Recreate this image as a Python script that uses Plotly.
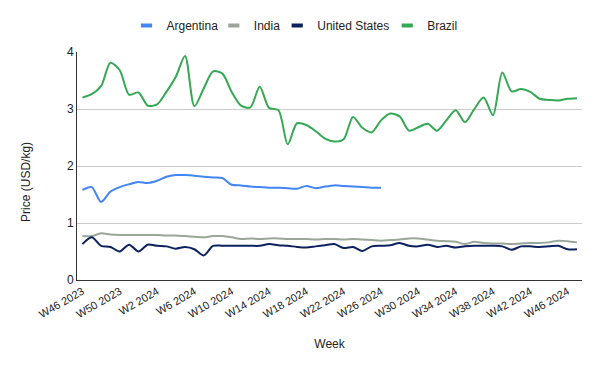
import plotly.graph_objects as go

weeks = [f"W{w} 2023" for w in range(46, 53)] + [f"W{w} 2024" for w in range(1, 48)]

argentina = [1.58, 1.63, 1.37, 1.55, 1.63, 1.68, 1.72, 1.70, 1.74, 1.81,
             1.84, 1.84, 1.83, 1.81, 1.80, 1.79, 1.67, 1.66, 1.64, 1.63,
             1.62, 1.62, 1.61, 1.60, 1.65, 1.61, 1.64, 1.66, 1.65, 1.64,
             1.63, 1.62, 1.62] + [None] * 21

india = [0.77, 0.77, 0.82, 0.80, 0.79, 0.79, 0.79, 0.79, 0.79, 0.78,
         0.78, 0.77, 0.76, 0.75, 0.77, 0.77, 0.75, 0.72, 0.73, 0.72,
         0.73, 0.73, 0.72, 0.72, 0.72, 0.71, 0.72, 0.72, 0.71, 0.72,
         0.71, 0.70, 0.69, 0.70, 0.71, 0.73, 0.73, 0.71, 0.69, 0.68,
         0.67, 0.63, 0.67, 0.65, 0.64, 0.64, 0.63, 0.64, 0.65, 0.65,
         0.66, 0.69, 0.68, 0.66]

united_states = [0.63, 0.75, 0.60, 0.58, 0.50, 0.62, 0.50, 0.62, 0.60, 0.59,
                 0.55, 0.58, 0.54, 0.43, 0.60, 0.60, 0.60, 0.60, 0.60, 0.60,
                 0.63, 0.61, 0.60, 0.58, 0.57, 0.59, 0.61, 0.63, 0.56, 0.58,
                 0.51, 0.59, 0.60, 0.61, 0.65, 0.60, 0.59, 0.62, 0.58, 0.60,
                 0.57, 0.59, 0.60, 0.60, 0.60, 0.59, 0.53, 0.59, 0.59, 0.58,
                 0.59, 0.60, 0.54, 0.54]

brazil = [3.20, 3.26, 3.40, 3.81, 3.68, 3.25, 3.29, 3.06, 3.08, 3.30,
          3.56, 3.93, 3.05, 3.36, 3.66, 3.62, 3.30, 3.06, 3.03, 3.39,
          3.02, 2.98, 2.38, 2.75, 2.72, 2.61, 2.48, 2.43, 2.47, 2.86,
          2.67, 2.59, 2.80, 2.92, 2.87, 2.62, 2.68, 2.74, 2.62, 2.80,
          2.98, 2.77, 3.00, 3.20, 2.89, 3.64, 3.31, 3.35, 3.30, 3.18,
          3.16, 3.15, 3.18, 3.19]

tick_labels = weeks[::4]

series_names = ["Argentina", "India", "United States", "Brazil"]
series_values = [argentina, india, united_states, brazil]
series_colors = ["#4285f4", "#9ba69b", "#0c215e", "#34a853"]
legend_ids = ["legend", "legend2", "legend3", "legend4"]
legend_x = [0.1975, 0.343, 0.4487, 0.632]

FONT = "Arial, Liberation Sans, sans-serif"
TEXT = "#222222"

fig = go.Figure()
for name, vals, color in zip(series_names, series_values, series_colors):
    fig.add_trace(go.Scatter(
        x=weeks, y=vals, name=name, mode="lines", showlegend=False,
        line=dict(color=color, width=2, shape="spline", smoothing=0.8),
        connectgaps=False, legendgroup=name,
    ))
# legend entries with short swatches
for name, color, lid in zip(series_names, series_colors, legend_ids):
    fig.add_trace(go.Scatter(
        x=[None], y=[None], name=name, mode="markers", legendgroup=name,
        legend=lid,
        marker=dict(symbol="line-ew", size=8, color=color,
                    line=dict(width=4, color=color)),
    ))

legend_layout = {}
for lid, lx in zip(legend_ids, legend_x):
    legend_layout[lid] = dict(
        orientation="h", xref="container", yref="container",
        x=lx, xanchor="left", y=0.953, yanchor="middle",
        font=dict(size=12, color=TEXT), itemwidth=30,
        bgcolor="rgba(0,0,0,0)",
    )

fig.update_layout(
    width=600, height=371,
    margin=dict(l=69, r=26, t=44, b=99),
    paper_bgcolor="white", plot_bgcolor="white",
    font=dict(family=FONT, size=12, color=TEXT),
    showlegend=True,
    xaxis=dict(
        type="category", categoryorder="array", categoryarray=weeks,
        range=[-0.58, 53.54],
        tickmode="array", tickvals=tick_labels, ticktext=tick_labels,
        tickangle=-30, tickfont=dict(size=11, color=TEXT),
        showgrid=False, showline=True, linecolor="#333333", linewidth=1,
        ticks="", automargin=False,
        title=dict(text="Week", font=dict(size=12, color=TEXT), standoff=20),
    ),
    yaxis=dict(
        range=[0, 4], dtick=1, tick0=0,
        showgrid=True, gridcolor="#cccccc", gridwidth=1,
        showline=True, linecolor="#333333", linewidth=1,
        zeroline=False, ticks="", automargin=False,
        tickfont=dict(size=12, color=TEXT),
    ),
    annotations=[dict(
        text="Price (USD/kg)", xref="paper", yref="paper",
        x=-0.101, y=0.43, xanchor="center", yanchor="middle",
        textangle=-90, showarrow=False, font=dict(size=12, color=TEXT),
    )],
    **legend_layout,
)

fig.write_html("out.html")
